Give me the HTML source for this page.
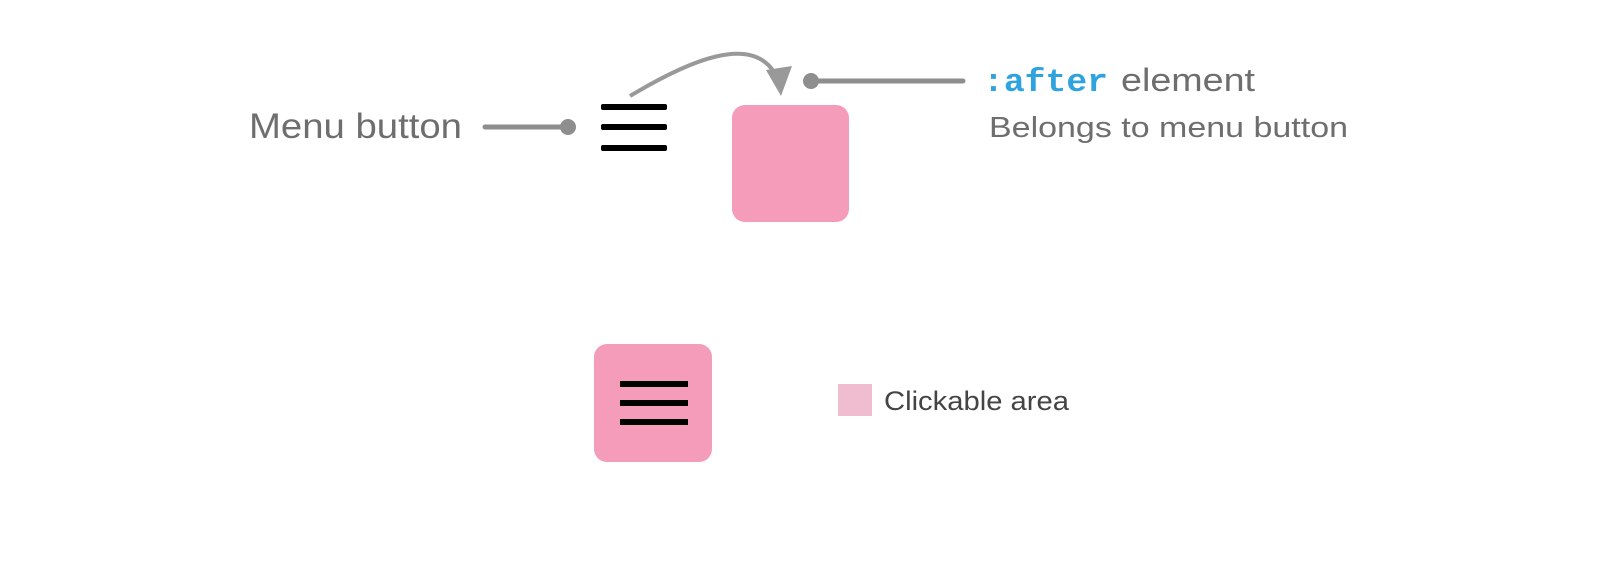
<!DOCTYPE html>
<html><head><meta charset="utf-8"><style>
html,body{margin:0;padding:0;background:#fff;}
body{width:1620px;height:574px;overflow:hidden;}
svg text{font-family:"Liberation Sans",sans-serif;}
</style></head><body>
<svg width="1620" height="574" viewBox="0 0 1620 574" xmlns="http://www.w3.org/2000/svg">
<text x="249" y="138" font-size="35" fill="#6e6e6e" textLength="213" lengthAdjust="spacingAndGlyphs">Menu button</text>
<line x1="485" y1="127" x2="566" y2="127" stroke="#8e8e8e" stroke-width="5" stroke-linecap="round"/>
<circle cx="568" cy="127" r="8" fill="#8e8e8e"/>
<rect x="601" y="104" width="66" height="6" rx="2" fill="#000"/>
<rect x="601" y="124" width="66" height="6" rx="2" fill="#000"/>
<rect x="601" y="145" width="66" height="6" rx="2" fill="#000"/>
<path d="M630 96 C 690 60, 750 35, 774 72" fill="none" stroke="#999" stroke-width="4"/>
<polygon points="766,70 792,66 781,96" fill="#999"/>
<circle cx="811" cy="81" r="8" fill="#8e8e8e"/>
<line x1="811" y1="81" x2="963" y2="81" stroke="#8e8e8e" stroke-width="5" stroke-linecap="round"/>
<text x="983" y="91" font-size="32" fill="#6e6e6e"><tspan font-family="Liberation Mono,monospace" font-weight="bold" fill="#2ea3e0" textLength="125" lengthAdjust="spacingAndGlyphs">:after</tspan><tspan x="1121" textLength="134" lengthAdjust="spacingAndGlyphs">element</tspan></text>
<text x="989" y="137" font-size="29" fill="#6e6e6e" textLength="359" lengthAdjust="spacingAndGlyphs">Belongs to menu button</text>
<rect x="732" y="105" width="117" height="117" rx="13" fill="#f49cba"/>
<rect x="594" y="344" width="118" height="118" rx="13" fill="#f49cba"/>
<rect x="620" y="381" width="68" height="6" fill="#000"/>
<rect x="620" y="400" width="68" height="6" fill="#000"/>
<rect x="620" y="419" width="68" height="6" fill="#000"/>
<rect x="838" y="384" width="34" height="32" fill="#f0bcd0"/>
<text x="884" y="410" font-size="27" fill="#444" textLength="185" lengthAdjust="spacingAndGlyphs">Clickable area</text>
</svg>
</body></html>
